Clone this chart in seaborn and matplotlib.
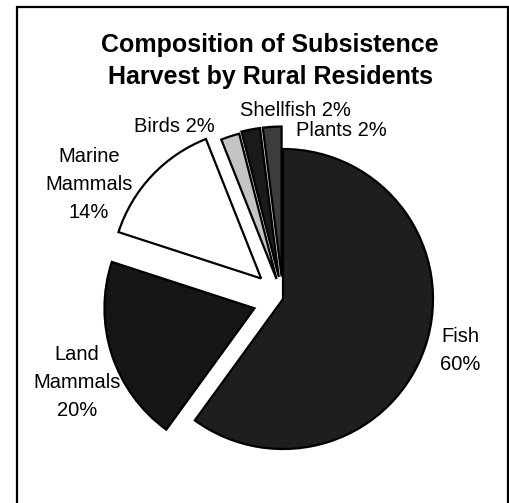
import matplotlib
matplotlib.use("Agg")
import matplotlib.pyplot as plt
import seaborn as sns
from matplotlib.patches import Rectangle

# Subsistence harvest composition (percent)
categories = ["Fish", "Land Mammals", "Marine Mammals", "Birds", "Shellfish", "Plants"]
shares = [60, 20, 14, 2, 2, 2]
explode = [0.0, 0.2, 0.2, 0.14, 0.15, 0.15]
colors = ["#1e1e1e", "#161616", "#ffffff", "#c4c4c4", "#1a1a1a", "#3c3c3c"]

sns.set_style("white")
plt.rcParams["font.family"] = ["Liberation Sans", "DejaVu Sans"]
plt.rcParams["text.color"] = "black"

W, H = 509, 503
fig = plt.figure(figsize=(W / 100, H / 100), dpi=100)
ax = fig.add_axes([0, 0, 1, 1])

# pie centre at pixel (283, 299), radius 150 px
cx, cy, r = 283, 299, 150
wedges, _ = ax.pie(shares, explode=explode, colors=colors, startangle=90,
                   counterclock=False, radius=1.0,
                   wedgeprops=dict(edgecolor="black", linewidth=1.6))
ax.set_xlim(-cx / r, (W - cx) / r)
ax.set_ylim(-(H - cy) / r, cy / r)
ax.axis("off")

def fx(px):
    return px / W

def fy(py):
    return 1 - py / H

# outer frame
fig.patches.append(Rectangle((fx(17), -0.02), fx(508) - fx(17), fy(7) + 0.02,
                             transform=fig.transFigure, fill=False,
                             edgecolor="black", linewidth=1.6))

# title
fig.text(fx(270), fy(45), "Composition of Subsistence", ha="center", va="center",
         fontsize=18, fontweight="bold")
fig.text(fx(270), fy(77), "Harvest by Rural Residents", ha="center", va="center",
         fontsize=18, fontweight="bold")

# slice labels
lab = dict(ha="center", va="center", fontsize=14.5, linespacing=1.6)
fig.text(fx(460), fy(351), "Fish\n60%", **lab)
fig.text(fx(77), fy(383), "Land\nMammals\n20%", **lab)
fig.text(fx(89), fy(184), "Marine\nMammals\n14%", **lab)
fig.text(fx(174), fy(127), "Birds 2%", **lab)
fig.text(fx(295), fy(110), "Shellfish 2%", **lab)
fig.text(fx(341), fy(130), "Plants 2%", **lab)

fig.savefig("out.png", dpi=100, facecolor="white")
